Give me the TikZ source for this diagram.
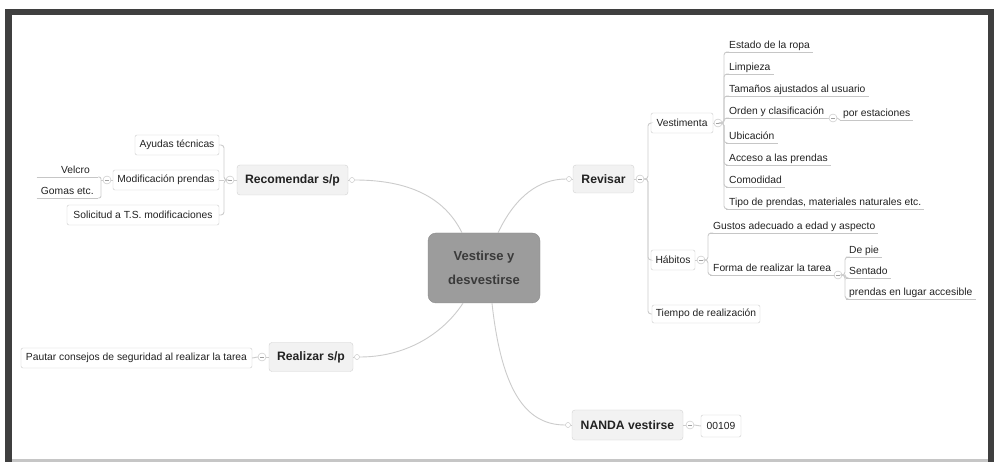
\documentclass[tikz,border=0pt]{standalone}
\usepackage{fontspec}
\setmainfont{Liberation Sans}
\definecolor{framec}{HTML}{3F3F3F}
\definecolor{txtc}{HTML}{222222}
\definecolor{cenfill}{HTML}{9C9C9C}
\definecolor{cenline}{HTML}{8C8C8C}
\definecolor{centxt}{HTML}{3A3A3A}
\newcommand{\subfnt}{\fontsize{10.3}{12}\selectfont}
\newcommand{\mainfnt}{\fontsize{12.2}{14}\selectfont\bfseries}
\begin{document}
\begin{tikzpicture}[x=1pt,y=-1pt,
  conn/.style={draw=gray!40, line width=0.9pt},
  uline/.style={draw=gray!45, line width=0.8pt},
  mainbox/.style={draw=gray!35, fill=gray!10, rounded corners=3pt, font=\mainfnt, text=txtc, inner sep=0pt},
  subbox/.style={draw=gray!40, fill=white, rounded corners=2pt, font=\subfnt, text=txtc, inner sep=0pt, minimum height=20pt},
  leaf/.style={font=\subfnt, text=txtc, inner xsep=3pt, inner ysep=1.5pt, text height=7.5pt, text depth=2.2pt, anchor=south west},
  tog/.style={circle, draw=gray!50, fill=white, minimum size=8pt, inner sep=0pt,
    path picture={\draw[gray!75, line width=0.8pt] ([xshift=-1.6pt]path picture bounding box.center) -- ([xshift=1.6pt]path picture bounding box.center);}},
  dot/.style={circle, draw=gray!50, fill=white, minimum size=5pt, inner sep=0pt},
]
\useasboundingbox (0,0) rectangle (994,462);
% frame
\fill[framec] (5,9) rectangle (994,462);
\fill[white] (12,15) rectangle (988,459);
\fill[gray!45] (12,459) rectangle (988,462);

% central
\node[draw=cenline, fill=cenfill, rounded corners=8pt, minimum width=112pt, minimum height=70pt,
  font=\fontsize{13}{24}\selectfont\bfseries, text=centxt, align=center, inner sep=0pt]
  (cen) at (484,268) {Vestirse y\\desvestirse};

% main topics
\node[mainbox, minimum width=111pt, minimum height=30pt] (recom) at (292.5,180) {Recomendar s/p};
\node[mainbox, minimum width=61pt, minimum height=28pt] (revis) at (603.5,179) {Revisar};
\node[mainbox, minimum width=84pt, minimum height=29pt] (realiz) at (311,357) {Realizar s/p};
\node[mainbox, minimum width=111pt, minimum height=30pt] (nanda) at (627.5,425) {NANDA vestirse};

\node[dot] (rdot) at (352,180) {};
\node[dot] (vdot) at (569,179) {};
\node[dot] (zdot) at (357,357) {};
\node[dot] (ndot) at (568,425) {};

\coordinate (c1) at ([xshift=-22pt]cen.north);
\coordinate (c2) at ([xshift=14pt]cen.north);
\coordinate (c3) at ([xshift=-21pt]cen.south);
\coordinate (c4) at ([xshift=8pt]cen.south);

\draw[conn] (c1) .. controls (442,192) and (400,180) .. (rdot.east);
\draw[conn] (c2) .. controls (516,195) and (540,179) .. (vdot.west);
\draw[conn] (c3) .. controls (442,335) and (405,357) .. (zdot.east);
\draw[conn] (c4) .. controls (502,395) and (528,425) .. (ndot.west);
\draw[conn] (recom.east) -- (rdot.west);
\draw[conn] (revis.west) -- (vdot.east);
\draw[conn] (realiz.east) -- (zdot.west);
\draw[conn] (nanda.west) -- (ndot.east);

% Recomendar branch
\node[subbox, minimum width=84pt] (ayudas) at (177,145) {Ayudas técnicas};
\node[subbox, minimum width=106pt] (modif) at (166,180) {Modificación prendas};
\node[subbox, minimum width=152pt] (solic) at (143,215) {Solicitud a T.S. modificaciones};
\node[tog] (trec) at (230,180) {};
\draw[conn] (recom.west) -- (trec.east);
\draw[conn, rounded corners=3pt] (trec.west) -- (224,180) |- (ayudas.east);
\draw[conn, rounded corners=3pt] (trec.west) -- (224,180) |- (solic.east);
\draw[conn] (224,180) -- (modif.east);

\node[leaf, anchor=south east, text width=45pt, align=right, inner xsep=8pt] (velcro) at (98,177) {Velcro};
\node[leaf, anchor=south east, minimum width=61pt] (gomas) at (98,198) {Gomas etc.};
\node[tog] (tmod) at (107,180) {};
\draw[conn] (modif.west) -- (tmod.east);
\draw[conn] (tmod.west) -- (101,180);
\draw[conn, rounded corners=2pt] (velcro.south east) -| (101,190) |- (gomas.south east);

% Realizar branch
\node[subbox, minimum width=231pt] (pautar) at (136.5,358) {Pautar consejos de seguridad al realizar la tarea};
\node[tog] (treal) at (262,357) {};
\draw[conn] (realiz.west) -- (treal.east);
\draw[conn] (treal.west) -- (pautar.east);

% NANDA branch
\node[subbox, minimum width=40pt, minimum height=22pt] (code) at (721,426) {00109};
\node[tog] (tnanda) at (690,425) {};
\draw[conn] (nanda.east) -- (tnanda.west);
\draw[conn] (tnanda.east) -- (code.west);

% Revisar branch
\node[subbox, minimum width=62pt] (vest) at (682,123) {Vestimenta};
\node[subbox, minimum width=44pt] (hab) at (673,260) {Hábitos};
\node[subbox, minimum width=108pt, minimum height=18pt] (tiempo) at (706,314) {Tiempo de realización};
\node[tog] (trev) at (640,179) {};
\draw[conn] (revis.east) -- (trev.west);
\draw[conn, rounded corners=3pt] (trev.east) -- (648,179) |- (vest.west);
\draw[conn, rounded corners=3pt] (trev.east) -- (648,179) |- (hab.west);
\draw[conn, rounded corners=3pt] (trev.east) -- (648,179) |- (tiempo.west);

% Vestimenta leaves
\node[tog] (tvest) at (718,123) {};
\draw[conn] (vest.east) -- (tvest.west);
\node[leaf] (estado) at (726,52) {Estado de la ropa};
\node[leaf] (limp) at (726,74) {Limpieza};
\node[leaf] (taman) at (726,96) {Tamaños ajustados al usuario};
\node[leaf] (orden) at (726,118) {Orden y clasificación};
\node[leaf] (ubic) at (726,143) {Ubicación};
\node[leaf] (acceso) at (726,165) {Acceso a las prendas};
\node[leaf] (comod) at (726,187) {Comodidad};
\node[leaf] (tipo) at (726,209) {Tipo de prendas, materiales naturales etc.};
\foreach \n in {estado,limp,taman,orden,ubic,acceso,comod,tipo}
  \draw[conn, rounded corners=3pt] (tvest.east) -- (724,123) |- (\n.south west);
\node[tog] (torden) at (833,118) {};
\node[leaf] (porest) at (840,120) {por estaciones};
\draw[conn] (orden.south east) -- (torden.west);
\draw[conn] (torden.east) -- (porest.south west);

% Habitos leaves
\node[tog] (thab) at (701,260) {};
\draw[conn] (hab.east) -- (thab.west);
\node[leaf] (gustos) at (710,233) {Gustos adecuado a edad y aspecto};
\node[leaf] (forma) at (710,275) {Forma de realizar la tarea};
\foreach \n in {gustos,forma}
  \draw[conn, rounded corners=3pt] (thab.east) -- (708,260) |- (\n.south west);
\node[tog] (tforma) at (838,275) {};
\draw[conn] (forma.south east) -- (tforma.west);
\node[leaf] (depie) at (846,257) {De pie};
\node[leaf] (sent) at (846,278) {Sentado};
\node[leaf] (prend) at (846,299) {prendas en lugar accesible};
\foreach \n in {depie,sent,prend}
  \draw[conn, rounded corners=3pt] (tforma.east) -- (845,275) |- (\n.south west);

% underlines
\foreach \n in {estado,limp,taman,orden,ubic,acceso,comod,tipo,porest,gustos,forma,depie,sent,prend,velcro,gomas}
  \draw[uline] (\n.south west) -- (\n.south east);
\end{tikzpicture}
\end{document}
